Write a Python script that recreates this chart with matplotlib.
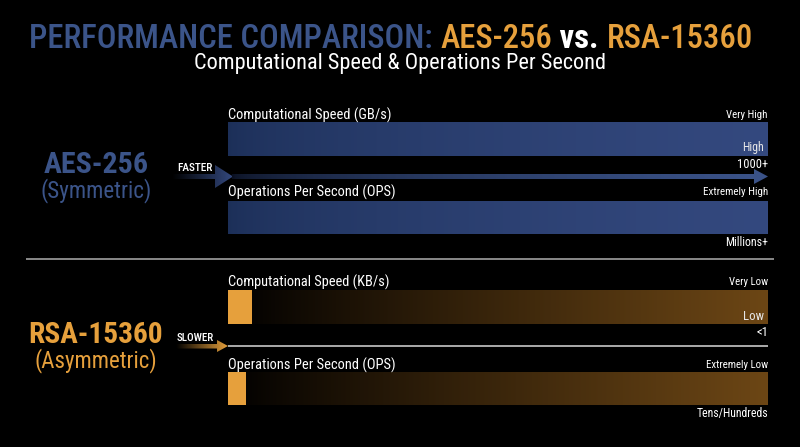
import matplotlib
matplotlib.use("Agg")
import matplotlib.pyplot as plt
import numpy as np
from matplotlib import font_manager
from matplotlib.colors import to_rgb
from matplotlib.patches import Polygon

# pick a condensed family if one is installed
_names = {f.name for f in font_manager.fontManager.ttflist}
_stretch = {}
for f in font_manager.fontManager.ttflist:
    if str(f.stretch) in ("condensed", "semi-condensed", "extra-condensed", "75", "87.5"):
        _stretch.setdefault(f.name, True)
FAMILY = None
STRETCH = "normal"
for cand in ["Roboto Condensed", "Liberation Sans Narrow", "Open Sans Condensed",
             "Noto Sans Condensed", "DejaVu Sans Condensed", "Arial Narrow"]:
    if cand in _names:
        FAMILY = cand
        break
if FAMILY is None:
    for cand in ["Roboto", "Noto Sans", "Open Sans", "DejaVu Sans"]:
        if cand in _stretch:
            FAMILY = cand
            STRETCH = "condensed"
            break
if FAMILY is None:
    FAMILY = "Roboto"
plt.rcParams['font.family'] = [FAMILY, 'DejaVu Sans']
plt.rcParams['font.stretch'] = STRETCH

# ---------------- data ----------------
algorithms = ["AES-256", "RSA-15360"]
algo_types = ["(Symmetric)", "(Asymmetric)"]
speed_words = ["FASTER", "SLOWER"]
metric_labels = [["Computational Speed (GB/s)", "Operations Per Second (OPS)"],
                 ["Computational Speed (KB/s)", "Operations Per Second (OPS)"]]
level_labels = [["Very High", "Extremely High"], ["Very Low", "Extremely Low"]]
rating_labels = ["High", "Low"]
speed_values = ["1000+", "<1"]
ops_values = ["Millions+", "Tens/Hundreds"]
bar_values = [[1.0, 1.0], [0.045, 0.034]]   # share of full-scale track

BLUE = "#3b5489"
ORANGE = "#e6a03c"
BG = "#000000"

W, H = 800, 447
fig = plt.figure(figsize=(8, 4.47), dpi=100, facecolor=BG)
renderer = fig.canvas.get_renderer()


def fit(t, target):
    w = t.get_window_extent(renderer).width
    if w > 0:
        t.set_fontsize(t.get_fontsize() * target / w)
    return t


def gradient(ax_, x0, x1, y0, y1, c0, c1, alpha0=1.0, alpha1=1.0, gamma=1.0, clip=None, z=1):
    n = 256
    t = np.linspace(0, 1, n) ** gamma
    a = to_rgb(c0)
    b = to_rgb(c1)
    img = np.zeros((1, n, 4))
    for k in range(3):
        img[0, :, k] = a[k] + (b[k] - a[k]) * t
    img[0, :, 3] = alpha0 + (alpha1 - alpha0) * np.linspace(0, 1, n)
    im = ax_.imshow(img, extent=(x0, x1, y1, y0), aspect="auto", interpolation="bilinear", zorder=z)
    if clip is not None:
        im.set_clip_path(clip)
    return im


def track_axes(y0, y1):
    a = fig.add_axes([228 / W, 1 - y1 / H, 540 / W, (y1 - y0) / H])
    a.set_xlim(0, 1)
    a.set_ylim(-0.5, 0.5)
    a.axis("off")
    return a


# ---------- bar tracks (drawn first, under the overlay) ----------
bar_rows = [[(122, 156), (201, 234)], [(290, 324), (372, 405)]]
for s in range(2):
    for m in range(2):
        y0, y1 = bar_rows[s][m]
        ta = track_axes(y0, y1)
        v = bar_values[s][m]
        if s == 0:
            gradient(ta, 0, v, -0.5, 0.5, "#1c2f58", "#34497f", gamma=0.6)
        else:
            gradient(ta, v, 1, -0.5, 0.5, "#050301", "#6c4615", gamma=0.9)
            ta.barh(0, v, height=1.0, color=ORANGE, zorder=3)

# ---------- overlay axes in pixel coordinates ----------
ax = fig.add_axes([0, 0, 1, 1])
ax.patch.set_visible(False)
ax.set_xlim(0, W)
ax.set_ylim(H, 0)
ax.axis("off")

# title
pieces = [("PERFORMANCE COMPARISON: ", BLUE), ("AES-256", ORANGE), (" vs. ", "white"), ("RSA-15360", ORANGE)]
texts = [ax.text(0, 39, s, color=c, fontsize=20, va="center", ha="left", fontweight="medium")
         for s, c in pieces]
total = sum(t.get_window_extent(renderer).width for t in texts)
for t in texts:
    t.set_fontsize(t.get_fontsize() * 722 / total)
texts[2].set_fontweight("bold")
widths = [t.get_window_extent(renderer).width for t in texts]
x = 391 - sum(widths) / 2
for t, w in zip(texts, widths):
    t.set_x(x)
    x += w

fit(ax.text(400, 63, "Computational Speed & Operations Per Second", color="white",
            fontsize=14, ha="center", va="center"), 413)

name_y = [(165, 191), (335, 361)]
name_w = [(105, 111), (135, 122)]
metric_y = [(115, 192), (282, 365)]
metric_w = [(163, 168), (162, 168)]
level_w = [(41, 65), (39, 62)]
rating_y = [148, 316]
rating_w = [22, 21]
sv_y = [164, 332]
sv_w = [31, 12]
ov_y = [242, 413]
ov_w = [43, 72]
word_y = [168, 338]
word_w = [35, 37]

for s in range(2):
    col = BLUE if s == 0 else ORANGE
    fit(ax.text(96, name_y[s][0], algorithms[s], color=col, fontsize=22,
                fontweight="bold", ha="center", va="center"), name_w[s][0])
    fit(ax.text(96, name_y[s][1], algo_types[s], color=col, fontsize=17,
                ha="center", va="center"), name_w[s][1])
    for m in range(2):
        ly = metric_y[s][m]
        fit(ax.text(228, ly, metric_labels[s][m], color="white", fontsize=11,
                    ha="left", va="center"), metric_w[s][m])
        fit(ax.text(768, ly, level_labels[s][m], color="white", fontsize=7.5,
                    ha="right", va="center"), level_w[s][m])
    fit(ax.text(764, rating_y[s], rating_labels[s], color="#e6e6e6", fontsize=10,
                ha="right", va="center"), rating_w[s])
    fit(ax.text(768, sv_y[s], speed_values[s], color="white", fontsize=9.5,
                ha="right", va="center"), sv_w[s])
    fit(ax.text(768, ov_y[s], ops_values[s], color="white", fontsize=9,
                ha="right", va="center"), ov_w[s])
    fit(ax.text(177, word_y[s], speed_words[s], color="white", fontsize=7.5,
                ha="left", va="center", fontweight="medium"), word_w[s])

# ---------- AES arrows ----------
poly = Polygon([(172, 174), (215, 174), (215, 165), (233, 176.5), (215, 188), (215, 179), (172, 179)],
               closed=True, facecolor="none", edgecolor="none")
ax.add_patch(poly)
gradient(ax, 172, 233, 164, 189, "#34497f", "#34497f", alpha0=0.0, alpha1=1.0, clip=poly, z=2)
poly2 = Polygon([(232, 174), (754, 174), (754, 169), (768, 176.5), (754, 184), (754, 179), (232, 179)],
                closed=True, facecolor="none", edgecolor="none")
ax.add_patch(poly2)
gradient(ax, 232, 768, 168, 185, "#0a1020", "#3b5389", gamma=0.5, clip=poly2, z=2)

# separator
ax.plot([26, 774], [259, 259], color="#a0a0a0", lw=1.2, solid_capstyle="butt")

# ---------- RSA arrows ----------
poly3 = Polygon([(176, 344), (217, 344), (217, 340), (228, 346), (217, 352), (217, 348.5), (176, 348.5)],
                closed=True, facecolor="none", edgecolor="none")
ax.add_patch(poly3)
gradient(ax, 176, 228, 338, 353, ORANGE, ORANGE, alpha0=0.0, alpha1=1.0, clip=poly3, z=2)
ax.plot([228, 768], [346, 346], color="#c8c8c8", lw=1.2, solid_capstyle="butt")

ax.set_xlim(0, W)
ax.set_ylim(H, 0)
fig.savefig("out.png", dpi=100, facecolor=BG)
